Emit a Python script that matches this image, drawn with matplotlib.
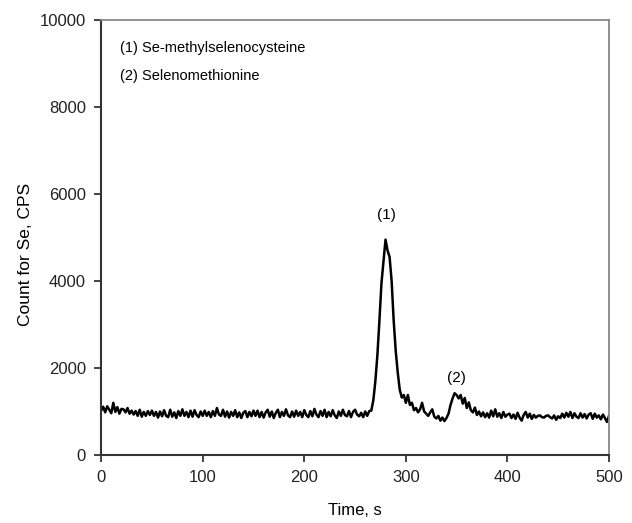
import numpy as np
import matplotlib
matplotlib.use("Agg")
import matplotlib.pyplot as plt

plt.rcParams['font.family'] = ['Liberation Sans', 'DejaVu Sans']

# time axis, one reading every 2 s
time_s = np.arange(0, 501, 2)

# counts, in chunks of time
seg_0_20 = [1020, 1110, 980, 1120, 1040, 960, 1200, 990, 1100, 950, 1060]
seg_22_50 = [1050, 980, 1080, 950, 1020, 930, 1010, 900, 1040, 880, 990, 900, 1010, 920, 1020]
seg_52_100 = [900, 990, 860, 1000, 890, 1030, 900, 870, 1040, 880, 980, 850, 1010, 900, 1050,
              900, 990, 870, 1020, 880, 1030, 920, 870, 1000, 900]
seg_102_150 = [1020, 900, 990, 870, 1010, 900, 1080, 930, 900, 1040, 880, 1000, 860, 990, 900,
               1030, 870, 980, 850, 970, 1010, 870, 990, 890, 1020]
seg_152_200 = [900, 1020, 870, 990, 860, 980, 1040, 880, 1000, 850, 970, 1040, 870, 990, 900,
               1050, 910, 870, 1000, 880, 1020, 900, 990, 870, 1030]
seg_202_250 = [920, 870, 1010, 890, 1060, 930, 870, 1010, 900, 1040, 870, 990, 890, 1030, 910,
               850, 1000, 900, 1040, 920, 890, 1010, 870, 990, 1040]
seg_252_300 = [930, 890, 970, 870, 1000, 900, 1010, 1020, 1260, 1700, 2300, 3100, 3950, 4450, 4950,
               4700, 4550, 4000, 3100, 2400, 1900, 1500, 1320, 1380, 1200]
seg_302_350 = [1380, 1150, 1200, 1030, 1080, 980, 1050, 1200, 1000, 950, 900, 980, 1050, 880, 840,
               900, 790, 860, 780, 850, 950, 1150, 1300, 1420, 1380]
seg_352_400 = [1300, 1380, 1180, 1310, 1080, 1210, 1030, 980, 1090, 920, 1000, 890, 980, 870, 960,
               860, 1020, 890, 1050, 880, 960, 850, 990, 880, 930]
seg_402_450 = [950, 850, 930, 830, 970, 860, 790, 920, 990, 860, 950, 830, 920, 860, 900,
               910, 870, 860, 900, 910, 870, 840, 910, 810, 890]
seg_452_500 = [850, 950, 860, 970, 880, 990, 850, 960, 880, 850, 960, 860, 940, 840, 930,
               960, 830, 950, 860, 910, 820, 930, 850, 760, 900]

counts = np.array(seg_0_20 + seg_22_50 + seg_52_100 + seg_102_150 + seg_152_200 + seg_202_250
                  + seg_252_300 + seg_302_350 + seg_352_400 + seg_402_450 + seg_452_500)

legend_lines = ["(1) Se-methylselenocysteine", "(2) Selenomethionine"]
peak_labels = ["(1)", "(2)"]
peak_pos = [(281, 5350), (350, 1600)]

fig = plt.figure(figsize=(6.32, 5.23), dpi=100)
ax = fig.add_axes([0.160, 0.130, 0.8036, 0.832])

ax.plot(time_s, counts, color="black", lw=1.8)

ax.set_xlim(0, 500)
ax.set_ylim(0, 10000)
ax.set_xticks([0, 100, 200, 300, 400, 500])
ax.set_yticks([0, 2000, 4000, 6000, 8000, 10000])
ax.tick_params(labelsize=12, length=5, width=1.2, colors="#222222", pad=6)
ax.set_xlabel("Time, s", fontsize=12)
ax.set_ylabel("Count for Se, CPS", fontsize=12.5)
ax.xaxis.set_label_coords(0.5, -0.11)
ax.yaxis.set_label_coords(-0.135, 0.46)

for side in ["left", "bottom"]:
    ax.spines[side].set_linewidth(1.5)
    ax.spines[side].set_color("#333333")
for side in ["top", "right"]:
    ax.spines[side].set_linewidth(1.3)
    ax.spines[side].set_color("#888888")

ax.text(0.038, 0.935, legend_lines[0], transform=ax.transAxes, fontsize=10.5, va="center")
ax.text(0.038, 0.870, legend_lines[1], transform=ax.transAxes, fontsize=10.5, va="center")

for lab, (x, y) in zip(peak_labels, peak_pos):
    ax.text(x, y, lab, ha="center", va="bottom", fontsize=11)

fig.savefig("out.png", dpi=100)
